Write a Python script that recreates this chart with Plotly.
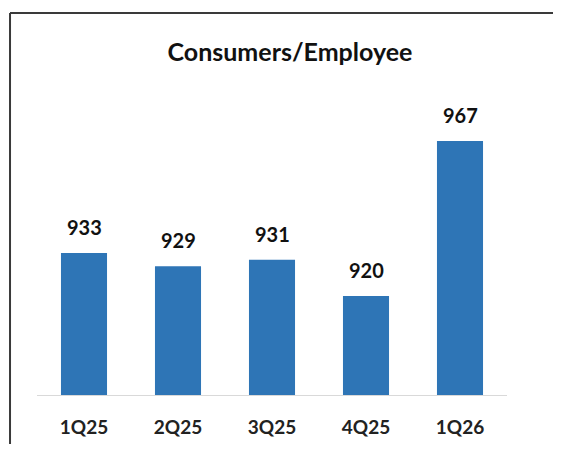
import plotly.graph_objects as go

quarters = ["1Q25", "2Q25", "3Q25", "4Q25", "1Q26"]
consumers_per_employee = [933, 929, 931, 920, 967]

font_name = "Lato"

fig = go.Figure()

fig.add_trace(go.Bar(
    x=quarters,
    y=consumers_per_employee,
    marker=dict(color="#2E75B6", line=dict(width=0)),
    width=0.49,
    hoverinfo="skip",
))

# value labels sitting above each bar
for q, v in zip(quarters, consumers_per_employee):
    fig.add_annotation(
        x=q, y=v, text=f"<b>{v}</b>",
        showarrow=False, yanchor="bottom", yshift=12,
        font=dict(family=font_name, size=20, color="#111111"),
    )

# frame lines (top and left only, like the cropped screenshot)
fig.add_shape(type="line", xref="paper", yref="paper",
              x0=-0.0574, x1=1.3, y0=1.0523, y1=1.0523,
              line=dict(color="#3a3a3a", width=2))
fig.add_shape(type="line", xref="paper", yref="paper",
              x0=-0.0574, x1=-0.0574, y0=1.0523, y1=-0.3,
              line=dict(color="#3a3a3a", width=2))

fig.update_layout(
    width=553, height=436,
    margin=dict(l=29, r=54, t=24, b=49, autoexpand=False),
    paper_bgcolor="white", plot_bgcolor="white",
    showlegend=False,
    title=dict(
        text="<b>Consumers/Employee</b>",
        x=282 / 553, xanchor="center", xref="container",
        y=0.899, yanchor="middle", yref="container",
        font=dict(family=font_name, size=25, color="#111111"),
    ),
    xaxis=dict(
        showline=True, linecolor="#d9d9d9", linewidth=1,
        showgrid=False, ticks="", automargin=False,
        tickfont=dict(family=font_name, size=19, color="#222222"),
        ticklabelstandoff=15,
        tickprefix="<b>", ticksuffix="</b>",
    ),
    yaxis=dict(
        range=[890, 1000], visible=False, showgrid=False, zeroline=False,
    ),
)

fig.write_html("out.html")
